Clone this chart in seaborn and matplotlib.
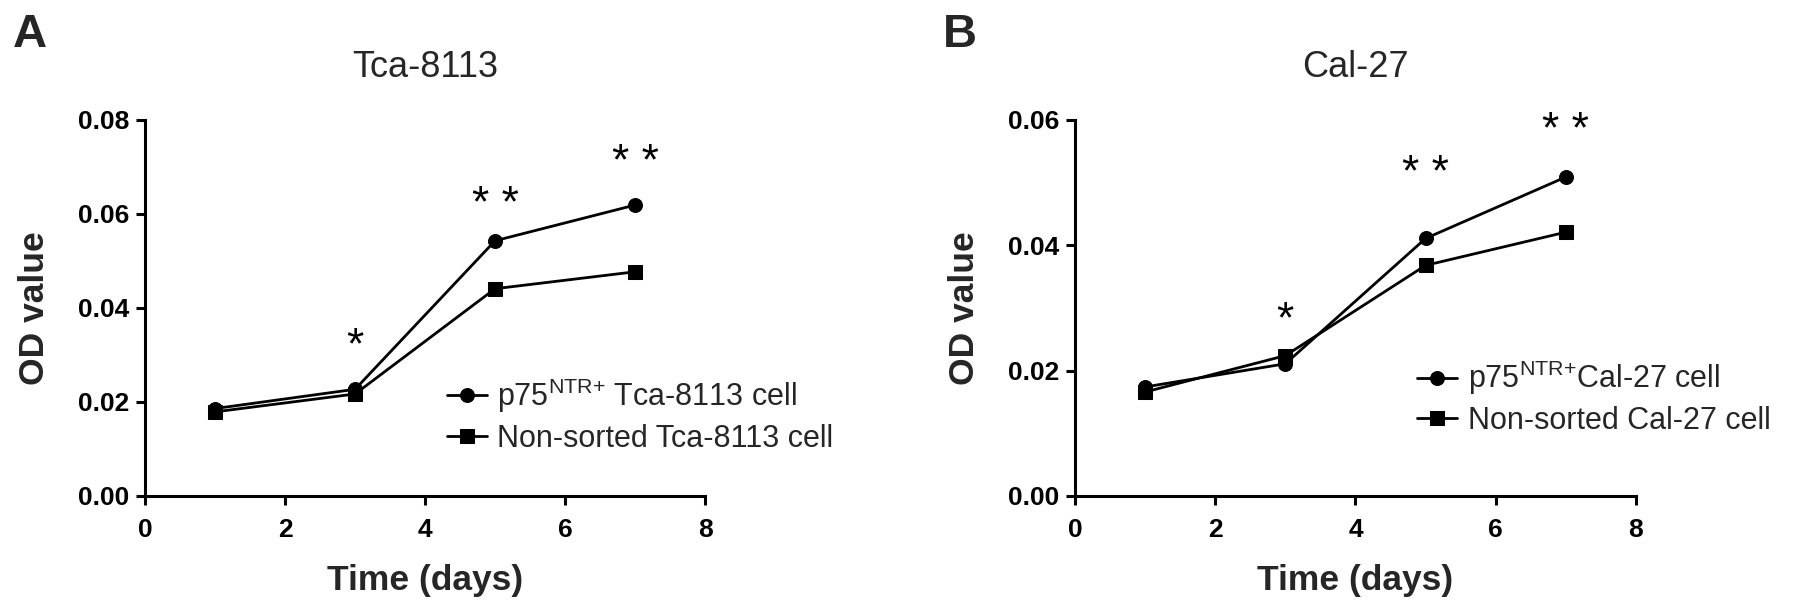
import matplotlib
matplotlib.use("Agg")
import matplotlib.pyplot as plt
import seaborn as sns
import pandas as pd
from matplotlib.ticker import FormatStrFormatter

sns.set_style("ticks")
plt.rcParams['font.family'] = ['Liberation Sans', 'DejaVu Sans']

days = [1, 3, 5, 7]

# Panel A: Tca-8113
a_title = "Tca-8113"
a_groups = ["p75$^{\\mathregular{NTR{+}}}$ Tca-8113 cell", "Non-sorted Tca-8113 cell"]
a_p75 = [0.0186, 0.0227, 0.0543, 0.0619]
a_non = [0.0179, 0.0217, 0.0441, 0.0477]
a_star_text = ["*", "* *", "* *"]
a_star_x = [3, 5, 7]
a_star_y = [0.0335, 0.0636, 0.0724]
a_yticks = [0.00, 0.02, 0.04, 0.06, 0.08]

# Panel B: Cal-27
b_title = "Cal-27"
b_groups = ["p75$^{\\mathregular{NTR{+}}}$Cal-27 cell", "Non-sorted Cal-27 cell"]
b_p75 = [0.0174, 0.0211, 0.0411, 0.0509]
b_non = [0.0166, 0.0224, 0.0368, 0.0421]
b_star_text = ["*", "* *", "* *"]
b_star_x = [3, 5, 7]
b_star_y = [0.0293, 0.0525, 0.0594]
b_yticks = [0.00, 0.02, 0.04, 0.06]

xticks = [0, 2, 4, 6, 8]
xlabel = "Time (days)"
ylabel = "OD value"


def make_df(groups, s1, s2):
    rows = []
    for d, v in zip(days, s1):
        rows.append({"day": d, "od": v, "group": groups[0]})
    for d, v in zip(days, s2):
        rows.append({"day": d, "od": v, "group": groups[1]})
    return pd.DataFrame(rows)


fig = plt.figure(figsize=(17.95, 6.14), dpi=100)
axA = fig.add_axes([0.0808, 0.1922, 0.312, 0.6124])
axB = fig.add_axes([0.5989, 0.1922, 0.3125, 0.6124])

STAR_FS = 32


def draw(ax, title, groups, s1, s2, stx, sx, sy, yticks, leg_anchor):
    df = make_df(groups, s1, s2)
    sns.lineplot(data=df, x="day", y="od", style="group", style_order=groups,
                 markers={groups[0]: "o", groups[1]: "s"}, dashes=False,
                 color="black", linewidth=2.0, markersize=10, markeredgecolor="black",
                 ax=ax, clip_on=False)
    ax.set_xlim(0, 8)
    ax.set_ylim(yticks[0], yticks[-1])
    ax.set_xticks(xticks)
    ax.set_yticks(yticks)
    ax.yaxis.set_major_formatter(FormatStrFormatter("%.2f"))
    for s in ["top", "right"]:
        ax.spines[s].set_visible(False)
    for s in ["left", "bottom"]:
        ax.spines[s].set_linewidth(2.2)
        ax.spines[s].set_color("black")
    ax.tick_params(axis="both", direction="out", length=6.5, width=2.2, colors="black",
                   labelsize=19)
    ax.tick_params(axis="x", pad=9)
    ax.tick_params(axis="y", pad=5)
    for lab in ax.get_xticklabels() + ax.get_yticklabels():
        lab.set_fontweight("bold")
    ax.set_xlabel(xlabel, fontsize=25.5, fontweight="bold", labelpad=16)
    ax.set_ylabel(ylabel, fontsize=25.5, fontweight="bold", labelpad=19)
    ax.set_title(title, fontsize=26, pad=31)
    for t, x, y in zip(stx, sx, sy):
        ax.annotate(t, (x, y), xytext=(0, -0.18 * STAR_FS), textcoords="offset points",
                    ha="center", va="center", fontsize=STAR_FS, color="black")
    leg = ax.legend(loc="center left", bbox_to_anchor=leg_anchor, frameon=False,
                    fontsize=22, handlelength=1.3, handletextpad=0.35,
                    labelspacing=0.28, borderaxespad=0, borderpad=0)
    for h in leg.legend_handles:
        h.set_markersize(10)
        h.set_linewidth(2.0)
        h.set_color("black")


draw(axA, a_title, a_groups, a_p75, a_non, a_star_text, a_star_x, a_star_y, a_yticks, (0.539, 0.215))
draw(axB, b_title, b_groups, b_p75, b_non, b_star_text, b_star_x, b_star_y, b_yticks, (0.61, 0.262))

fig.text(0.0072, 0.9235, "A", fontsize=34, fontweight="bold", ha="left", va="baseline")
fig.text(0.525, 0.9235, "B", fontsize=34, fontweight="bold", ha="left", va="baseline")

fig.savefig("out.png", dpi=100)
